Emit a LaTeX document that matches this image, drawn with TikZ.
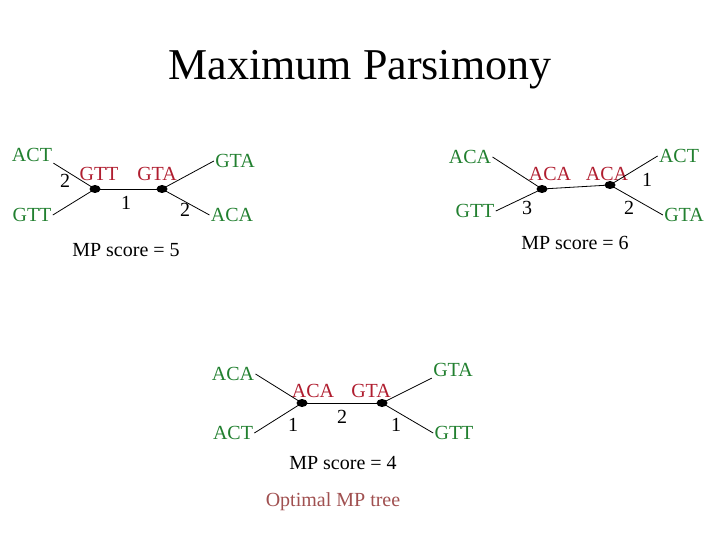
\documentclass[tikz,border=0pt]{standalone}
\usepackage{fontspec}
\setmainfont{Liberation Serif}
\usetikzlibrary{shapes.geometric}
\definecolor{leafgreen}{RGB}{34,128,48}
\definecolor{ancred}{RGB}{176,30,48}
\definecolor{optred}{RGB}{160,80,80}
\begin{document}
\begin{tikzpicture}[x=1pt,y=-1pt,line width=0.8pt,
 txt/.style={font=\fontsize{20}{24}\selectfont,inner sep=1pt},
 leaf/.style={txt,text=leafgreen},
 anc/.style={txt,text=ancred},
 dot/.style={ellipse,fill=black,inner sep=0pt,minimum width=11pt,minimum height=8pt}]
\useasboundingbox (0,0) rectangle (720,540);
\node[font=\fontsize{44}{52}\selectfont] (title) at (360,70) {Maximum Parsimony};
% tree 1
\node[leaf] (actA) at (32,155) {ACT};
\node[leaf] (gttA) at (32,215) {GTT};
\node[leaf] (gtaA) at (235,161) {GTA};
\node[leaf] (acaA) at (232,215) {ACA};
\node[dot] (uA) at (95,189) {};
\node[dot] (vA) at (162,189) {};
\node[anc] (ancuA) at (99,174) {GTT};
\node[anc] (ancvA) at (157,174) {GTA};
\draw (actA.south east)--(uA.center);
\draw (gttA.east)--(uA.center);
\draw (uA.center)--(vA.center);
\draw (vA.center)--(gtaA.west);
\draw (vA.center)--(acaA.west);
\node[txt] (w1A) at (65,181) {2};
\node[txt] (w2A) at (126,203) {1};
\node[txt] (w3A) at (185,210) {2};
\node[txt] (scoreA) at (126,250) {MP score = 5};
% tree 2
\node[leaf] (acaB) at (470,157) {ACA};
\node[leaf] (gttB) at (475,211) {GTT};
\node[leaf] (actB) at (679,156) {ACT};
\node[leaf] (gtaB) at (684,215) {GTA};
\node[dot] (uB) at (542,189) {};
\node[dot] (vB) at (610,185) {};
\node[anc] (ancuB) at (550,174) {ACA};
\node[anc] (ancvB) at (607,174) {ACA};
\draw (acaB.east)--(uB.center);
\draw (gttB.east)--(uB.center);
\draw (uB.center)--(vB.center);
\draw (vB.center)--(actB.west);
\draw (vB.center)--(gtaB.west);
\node[txt] (w1B) at (527,208) {3};
\node[txt] (w2B) at (647,180) {1};
\node[txt] (w3B) at (629,208) {2};
\node[txt] (scoreB) at (575,243) {MP score = 6};
% tree 3
\node[leaf] (acaC) at (233,374) {ACA};
\node[leaf] (actC) at (233,433) {ACT};
\node[leaf] (gtaC) at (453,370) {GTA};
\node[leaf] (gttC) at (454,433) {GTT};
\node[dot] (uC) at (302,403) {};
\node[dot] (vC) at (382,403) {};
\node[anc] (ancuC) at (313,391) {ACA};
\node[anc] (ancvC) at (371,391) {GTA};
\draw (acaC.east)--(uC.center);
\draw (actC.east)--(uC.center);
\draw (uC.center)--(vC.center);
\draw (vC.center)--(gtaC.south west);
\draw (vC.center)--(gttC.west);
\node[txt] (w1C) at (293,425) {1};
\node[txt] (w2C) at (342,417) {2};
\node[txt] (w3C) at (396,425) {1};
\node[txt] (scoreC) at (343,463) {MP score = 4};
\node[txt,text=optred] (optC) at (333,502) {Optimal MP tree};
\end{tikzpicture}
\end{document}
